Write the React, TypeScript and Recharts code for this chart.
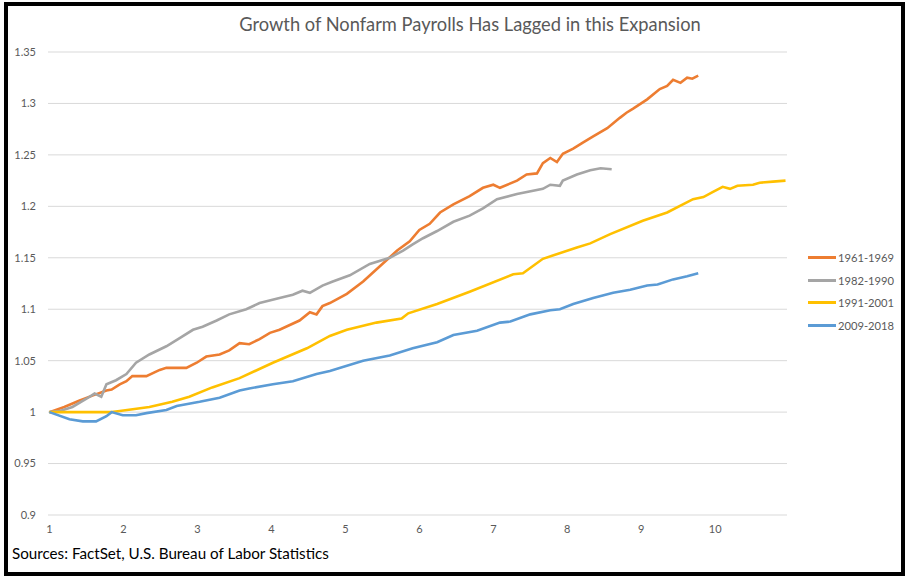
import React from 'react';
import { LineChart, Line, XAxis, YAxis, CartesianGrid, Legend } from 'recharts';

const titleText = 'Growth of Nonfarm Payrolls Has Lagged in this Expansion';
const sourceText = 'Sources: FactSet, U.S. Bureau of Labor Statistics';

const seriesNames = ['1961-1969', '1982-1990', '1991-2001', '2009-2018'];
const seriesColors = ['#ED7D31', '#A5A5A5', '#FFC000', '#5B9BD5'];

const xTicks = [1, 2, 3, 4, 5, 6, 7, 8, 9, 10];
const yTicks = [0.9, 0.95, 1, 1.05, 1.1, 1.15, 1.2, 1.25, 1.3, 1.35];

const x1961 = [1, 1.2, 1.4, 1.58, 1.77, 1.84, 1.95, 2.04, 2.12, 2.31, 2.49, 2.58, 2.85, 2.99, 3.12, 3.3, 3.43, 3.57, 3.7, 3.84, 3.98, 4.11, 4.38, 4.52, 4.61, 4.69, 4.79, 5.02, 5.24, 5.47, 5.7, 5.87, 6.0, 6.14, 6.28, 6.46, 6.68, 6.86, 7.0, 7.09, 7.32, 7.45, 7.59, 7.67, 7.77, 7.86, 7.94, 8.08, 8.21, 8.35, 8.54, 8.71, 8.8, 8.89, 9.08, 9.25, 9.35, 9.43, 9.53, 9.62, 9.69, 9.77];
const y1961 = [1.0, 1.005, 1.011, 1.016, 1.021, 1.022, 1.027, 1.03, 1.035, 1.035, 1.041, 1.043, 1.043, 1.048, 1.054, 1.056, 1.06, 1.067, 1.066, 1.071, 1.077, 1.08, 1.089, 1.097, 1.095, 1.103, 1.106, 1.115, 1.127, 1.142, 1.157, 1.166, 1.177, 1.183, 1.194, 1.202, 1.21, 1.218, 1.221, 1.218, 1.225, 1.231, 1.232, 1.242, 1.247, 1.243, 1.251, 1.256, 1.262, 1.268, 1.276, 1.286, 1.291, 1.295, 1.304, 1.314, 1.317, 1.323, 1.32, 1.325, 1.324, 1.327];

const x1982 = [1, 1.14, 1.31, 1.5, 1.61, 1.7, 1.77, 1.9, 2.04, 2.17, 2.35, 2.58, 2.76, 2.94, 3.07, 3.26, 3.43, 3.66, 3.84, 4.11, 4.29, 4.42, 4.52, 4.69, 4.83, 5.06, 5.33, 5.6, 5.78, 5.91, 6.05, 6.24, 6.46, 6.68, 6.86, 7.05, 7.32, 7.67, 7.77, 7.9, 7.94, 8.13, 8.31, 8.45, 8.6];
const y1982 = [1.0, 1.001, 1.005, 1.013, 1.018, 1.015, 1.027, 1.031, 1.037, 1.048, 1.056, 1.064, 1.072, 1.08, 1.083, 1.089, 1.095, 1.1, 1.106, 1.111, 1.114, 1.118, 1.116, 1.123, 1.127, 1.133, 1.144, 1.15, 1.157, 1.163, 1.169, 1.176, 1.185, 1.191, 1.198, 1.207, 1.212, 1.217, 1.221, 1.22, 1.225, 1.231, 1.235, 1.237, 1.236];

const x1991 = [1, 1.4, 1.84, 1.95, 2.35, 2.66, 2.89, 3.2, 3.57, 4.02, 4.48, 4.79, 5.02, 5.42, 5.76, 5.85, 6.24, 6.68, 7.27, 7.4, 7.67, 8.13, 8.31, 8.58, 9.02, 9.35, 9.7, 9.84, 9.97, 10.1, 10.2, 10.3, 10.51, 10.6, 10.78, 10.95];
const y1991 = [1.0, 1.0, 1.0, 1.001, 1.005, 1.01, 1.015, 1.024, 1.033, 1.048, 1.062, 1.074, 1.08, 1.087, 1.091, 1.096, 1.105, 1.117, 1.134, 1.135, 1.149, 1.16, 1.164, 1.173, 1.186, 1.194, 1.207, 1.209, 1.214, 1.219, 1.217, 1.22, 1.221, 1.223, 1.224, 1.225];

const x2009 = [1, 1.27, 1.45, 1.63, 1.77, 1.84, 1.99, 2.17, 2.31, 2.58, 2.72, 3.03, 3.3, 3.57, 3.7, 4.02, 4.29, 4.61, 4.79, 5.24, 5.6, 5.91, 6.24, 6.46, 6.78, 7.09, 7.23, 7.5, 7.77, 7.9, 8.08, 8.35, 8.62, 8.85, 9.08, 9.22, 9.43, 9.62, 9.77];
const y2009 = [1.0, 0.993, 0.991, 0.991, 0.996, 1.0, 0.997, 0.997, 0.999, 1.002, 1.006, 1.01, 1.014, 1.021, 1.023, 1.027, 1.03, 1.037, 1.04, 1.05, 1.055, 1.062, 1.068, 1.075, 1.079, 1.087, 1.088, 1.095, 1.099, 1.1, 1.105, 1.111, 1.116, 1.119, 1.123, 1.124, 1.129, 1.132, 1.135];

function zip(xs: number[], ys: number[]) {
  const n = Math.min(xs.length, ys.length);
  const out: { x: number; y: number }[] = [];
  for (let i = 0; i < n; i++) out.push({ x: xs[i], y: ys[i] });
  return out;
}

const seriesData = [zip(x1961, y1961), zip(x1982, y1982), zip(x1991, y1991), zip(x2009, y2009)];

const FONT = "Lato, 'Open Sans', sans-serif";

function LegendContent() {
  return (
    <div style={{ fontFamily: FONT, fontSize: 11.2, color: '#595959' }}>
      {seriesNames.map((name, i) => (
        <div key={name} style={{ display: 'flex', alignItems: 'center', height: 22.7, whiteSpace: 'nowrap' }}>
          <div style={{ width: 28, height: 3, background: seriesColors[i], marginRight: 2, flexShrink: 0 }} />
          <span>{name}</span>
        </div>
      ))}
    </div>
  );
}

export default function App() {
  return (
    <div style={{ position: 'absolute', left: 0, top: 0, width: 911, height: 583, background: '#fff', overflow: 'hidden' }}>
      <LineChart
        width={911}
        height={583}
        margin={{ top: 52, right: 24, bottom: 38, left: 8 }}
        style={{ position: 'absolute', left: 0, top: 0 }}
      >
        <CartesianGrid vertical={false} stroke="#D9D9D9" strokeWidth={1} />
        <XAxis
          type="number"
          dataKey="x"
          domain={[0.98, 10.97]}
          ticks={xTicks}
          allowDataOverflow
          axisLine={false}
          tickLine={false}
          height={30}
          tickMargin={4}
          tick={{ fill: '#595959', fontSize: 11, fontFamily: FONT }}
        />
        <YAxis
          type="number"
          domain={[0.9, 1.35]}
          ticks={yTicks}
          allowDataOverflow
          axisLine={false}
          tickLine={false}
          width={40}
          tickMargin={6}
          tick={{ fill: '#595959', fontSize: 11, fontFamily: FONT }}
        />
        {seriesNames.map((name, i) => (
          <Line
            key={name}
            name={name}
            data={seriesData[i]}
            dataKey="y"
            type="linear"
            stroke={seriesColors[i]}
            strokeWidth={2.6}
            dot={false}
            activeDot={false}
            isAnimationActive={false}
          />
        ))}
        <Legend
          layout="horizontal"
          verticalAlign="middle"
          align="right"
          content={<LegendContent />}
          wrapperStyle={{ left: 808, top: 246, width: 100, right: 'auto', bottom: 'auto' }}
        />
      </LineChart>
      <div
        style={{
          position: 'absolute', left: 4, top: 2, width: 901, height: 574,
          border: '4px solid #000', boxSizing: 'border-box', pointerEvents: 'none',
        }}
      />
      <div
        style={{
          position: 'absolute', left: 170, top: 12, width: 600, textAlign: 'center',
          fontFamily: FONT, fontSize: 18.3, color: '#595959', lineHeight: '24px',
        }}
      >
        {titleText}
      </div>
      <div
        style={{
          position: 'absolute', left: 12, top: 543, fontFamily: FONT, fontSize: 15.2,
          color: '#000', lineHeight: '20px', whiteSpace: 'nowrap',
        }}
      >
        {sourceText}
      </div>
    </div>
  );
}
